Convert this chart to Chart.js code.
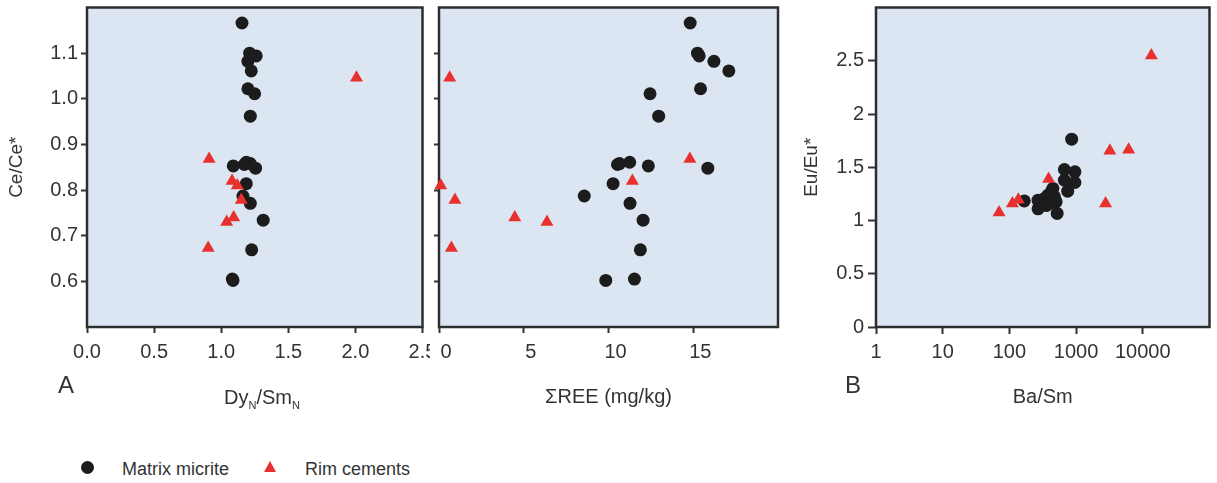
<!DOCTYPE html>
<html>
<head>
<meta charset="utf-8">
<script src="https://cdn.jsdelivr.net/npm/chart.js@4.4.0/dist/chart.umd.min.js"></script>
<style>
body{margin:0;background:#fff;font-family:"Liberation Sans",Arial,sans-serif;color:#333}
#wrap{position:relative;width:1217px;height:483px;overflow:hidden}
canvas{position:absolute;top:0}
.lbl{position:absolute;white-space:nowrap}
.big{font-size:24px;line-height:24px;top:373px}
.ttl{font-size:20px;line-height:20px;top:387px;transform:translateX(-50%)}
.ttl sub{font-size:11px;line-height:0;vertical-align:-5px}
.leg{font-size:18px;line-height:20px;top:459px}
.dot{position:absolute;left:81px;top:461px;width:13px;height:13px;border-radius:50%;background:#1c1c1c}
.tri{position:absolute;left:264px;top:461px;width:0;height:0;border-left:6.5px solid transparent;border-right:6.5px solid transparent;border-bottom:11px solid #e8312f}
</style>
</head>
<body>
<div id="wrap">
  <canvas id="cA" width="430" height="420" style="left:0"></canvas>
  <canvas id="cR" width="360" height="420" style="left:430px"></canvas>
  <canvas id="cB" width="427" height="420" style="left:790px"></canvas>
  <div class="lbl big" style="left:58px">A</div>
  <div class="lbl big" style="left:845px">B</div>
  <div class="lbl ttl" style="left:262px">Dy<sub>N</sub>/Sm<sub>N</sub></div>
  <div class="dot"></div><div class="lbl leg" style="left:122px">Matrix micrite</div>
  <div class="tri"></div><div class="lbl leg" style="left:305px">Rim cements</div>
</div>
<script>
// matrix micrite, same 20 samples in panel A and the ΣREE panel
const matrixCe   = [1.166,1.100,1.094,1.082,1.061,1.022,1.011,0.962,0.861,0.858,0.856,0.853,0.848,0.814,0.787,0.771,0.734,0.669,0.605,0.602];
const matrixDySm = [1.155,1.212,1.261,1.199,1.224,1.199,1.249,1.217,1.187,1.217,1.172,1.090,1.256,1.187,1.162,1.217,1.313,1.227,1.083,1.088];
const matrixREE  = [14.82,15.25,15.35,16.22,17.10,15.43,12.45,12.96,11.25,10.65,10.53,12.35,15.86,10.27,8.57,11.27,12.04,11.88,11.53,9.84];
// rim cements
const rimCe   = [1.046,0.868,0.820,0.810,0.778,0.740,0.730,0.673];
const rimDySm = [2.008,0.910,1.081,1.120,1.150,1.093,1.041,0.903];
const rimREE  = [0.63,14.80,11.41,0.10,0.94,4.47,6.37,0.73];
// panel B
const matrixBaSm = [858,668,960,668,960,748,449,167,520,269,301,338,378,424,475,502,401,269,355,450];
const matrixEu   = [1.764,1.479,1.457,1.379,1.357,1.275,1.301,1.184,1.066,1.110,1.175,1.207,1.238,1.269,1.222,1.175,1.160,1.191,1.140,1.190];
const rimBaSm = [13430,3207,6134,2768,387,136,111,70];
const rimEu   = [2.55,1.655,1.665,1.16,1.39,1.195,1.16,1.075];

const ceTicks = [0.6,0.7,0.8,0.9,1.0,1.1];
const dyTicks = [0,0.5,1,1.5,2,2.5];
const reeTicks = [0,5,10,15];
const baTicks = [1,10,100,1000,10000];
const euTicks = [0,0.5,1,1.5,2,2.5];

const FONT = '"Liberation Sans", Arial, sans-serif';
const INK = '#333';

const frame = {
  id: 'frame',
  beforeDraw(c) {
    const a = c.chartArea, x = c.ctx;
    x.save(); x.fillStyle = '#dce6f2'; x.fillRect(a.left, a.top, a.width, a.height); x.restore();
  },
  beforeDatasetsDraw(c) {
    const a = c.chartArea, x = c.ctx;
    x.save(); x.strokeStyle = '#2e2e2e'; x.lineWidth = 2.5;
    x.strokeRect(a.left, a.top, a.width, a.height); x.restore();
  }
};

const pts = (xs, ys) => xs.map((v, i) => ({x: v, y: ys[i]}));
const sets = (mx, my, rx, ry) => [
  {label: 'Matrix micrite', data: pts(mx, my), pointStyle: 'circle', pointRadius: 6.5,
   backgroundColor: '#1c1c1c', borderWidth: 0, clip: false, order: 2},
  {label: 'Rim cements', data: pts(rx, ry), pointStyle: 'triangle', pointRadius: 7.5,
   backgroundColor: '#e8312f', borderWidth: 0, clip: false, order: 1}
];

const fit = (w, h) => s => {
  if (w != null) s.width = w;
  if (h != null) s.height = h;
  s.paddingTop = s.paddingBottom = s.paddingLeft = s.paddingRight = 0;
};
const setTicks = list => s => { s.ticks = list.map(v => ({value: v})); };

function axis(o) {
  return {
    type: o.type || 'linear', min: o.min, max: o.max, position: o.pos,
    afterBuildTicks: setTicks(o.ticks),
    afterFit: fit(o.w, o.h),
    border: {display: false},
    grid: {drawOnChartArea: false, drawTicks: true, tickLength: o.tl || 6, tickWidth: 2, tickColor: INK},
    ticks: {display: o.labels !== false, autoSkip: false, maxRotation: 0, minRotation: 0,
            padding: o.pad, labelOffset: o.off || 0, color: INK, font: {family: FONT, size: 20},
            callback: o.fmt || (v => String(v))},
    title: o.title ? {display: true, text: o.title, color: INK, font: {family: FONT, size: o.tsize},
                      padding: o.tpad} : {display: false}
  };
}

function make(id, padR, datasets, xs, ys) {
  return new Chart(document.getElementById(id), {
    type: 'scatter',
    data: {datasets},
    options: {
      responsive: false, animation: false, events: [],
      layout: {padding: {top: 6, right: padR, bottom: 0, left: 0}},
      plugins: {legend: {display: false}, tooltip: {enabled: false}},
      scales: {x: xs, y: ys}
    },
    plugins: [frame]
  });
}

make('cA', 6, sets(matrixDySm, matrixCe, rimDySm, rimCe),
  axis({pos: 'bottom', min: 0, max: 2.5, ticks: dyTicks, h: 93, pad: 7, fmt: v => v.toFixed(1)}),
  axis({pos: 'left', min: 0.5, max: 1.2, ticks: ceTicks, w: 87, pad: 3, fmt: v => v.toFixed(1),
        title: 'Ce/Ce*', tsize: 19, tpad: {top: 5}}));

make('cR', 12, sets(matrixREE, matrixCe, rimREE, rimCe),
  axis({pos: 'bottom', min: 0, max: 20, ticks: reeTicks, h: 93, pad: 7, off: 7,
        title: 'ΣREE (mg/kg)', tsize: 20, tpad: {bottom: 11}}),
  axis({pos: 'left', min: 0.5, max: 1.2, ticks: ceTicks, w: 9, tl: 5, labels: false}));

make('cB', 3, sets(matrixBaSm, matrixEu, rimBaSm, rimEu),
  axis({type: 'logarithmic', pos: 'bottom', min: 1, max: 100000, ticks: baTicks, h: 93, pad: 6, tl: 7,
        title: 'Ba/Sm', tsize: 20, tpad: {bottom: 11}}),
  axis({pos: 'left', min: 0, max: 3, ticks: euTicks, w: 86, pad: 4, tl: 8,
        title: 'Eu/Eu*', tsize: 19, tpad: {top: 10}}));
</script>
</body>
</html>
